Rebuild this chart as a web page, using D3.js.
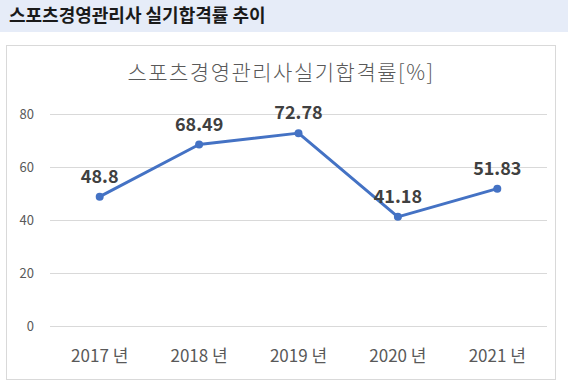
<!DOCTYPE html>
<html>
<head>
<meta charset="utf-8">
<script src="https://cdn.jsdelivr.net/npm/d3@7"></script>
<style>
body { margin: 0; background: #fff; font-family: "Noto Sans CJK KR", "Noto Sans", sans-serif; }
</style>
</head>
<body>
<script>
var years = ['2017 년', '2018 년', '2019 년', '2020 년', '2021 년'];
var rates = [48.8, 68.49, 72.78, 41.18, 51.83];
var yTicks = [0, 20, 40, 60, 80];

var width = 568, height = 389;
var svg = d3.select('body').append('svg')
	.attr('width', width)
	.attr('height', height);

// header band
svg.append('rect')
	.attr('width', width).attr('height', 32)
	.attr('fill', '#e6ecf8');
svg.append('text')
	.attr('x', 9).attr('y', 22)
	.attr('font-size', 18).attr('font-weight', 'bold')
	.attr('fill', '#1a1a1a')
	.text('스포츠경영관리사 실기합격률 추이');

// chart frame
svg.append('rect')
	.attr('x', 6.5).attr('y', 45.5)
	.attr('width', 549).attr('height', 334)
	.attr('fill', '#fff').attr('stroke', '#d9d9d9');

svg.append('text')
	.attr('x', 281).attr('y', 80)
	.attr('text-anchor', 'middle')
	.attr('font-size', 21)
	.attr('font-weight', 300)
	.attr('letter-spacing', 1.5)
	.attr('fill', '#595959')
	.text('스포츠경영관리사실기합격률[%]');

var x = d3.scalePoint()
	.domain(years)
	.range([50, 547])
	.padding(0.5);
var y = d3.scaleLinear()
	.domain([0, 80])
	.range([326, 114]);

var g = svg.append('g');
g.selectAll('.grid').data(yTicks).enter().append('line')
	.attr('x1', 50).attr('x2', 547)
	.attr('y1', function(d) { return y(d) + 0.5; })
	.attr('y2', function(d) { return y(d) + 0.5; })
	.attr('stroke', '#d9d9d9');

g.selectAll('.ylab').data(yTicks).enter().append('text')
	.attr('x', 34).attr('y', function(d) { return y(d) + 5; })
	.attr('text-anchor', 'end')
	.attr('font-size', 13)
	.attr('fill', '#595959')
	.text(function(d) { return d; });

g.selectAll('.xlab').data(years).enter().append('text')
	.attr('x', function(d) { return x(d); })
	.attr('y', 362)
	.attr('text-anchor', 'middle')
	.attr('font-size', 17)
	.attr('fill', '#595959')
	.text(function(d) { return d; });

var line = d3.line()
	.x(function(d, i) { return x(years[i]); })
	.y(function(d) { return y(d); });

g.append('path')
	.datum(rates)
	.attr('d', line)
	.attr('fill', 'none')
	.attr('stroke', '#4472c4')
	.attr('stroke-width', 3)
	.attr('stroke-linejoin', 'round');

g.selectAll('.pt').data(rates).enter().append('circle')
	.attr('cx', function(d, i) { return x(years[i]); })
	.attr('cy', function(d) { return y(d); })
	.attr('r', 4)
	.attr('fill', '#4472c4');

g.selectAll('.val').data(rates).enter().append('text')
	.attr('x', function(d, i) { return x(years[i]); })
	.attr('y', function(d) { return y(d) - 14; })
	.attr('text-anchor', 'middle')
	.attr('font-size', 18).attr('font-weight', 'bold')
	.attr('fill', '#404040')
	.text(function(d) { return d; });
</script>
</body>
</html>
